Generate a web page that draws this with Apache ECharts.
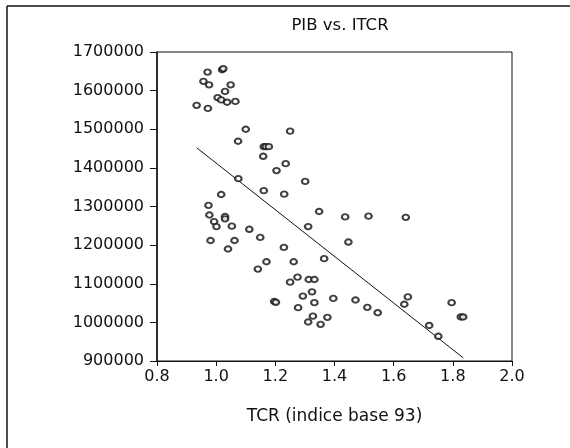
<!DOCTYPE html>
<html>
<head>
<meta charset="utf-8">
<script src="https://cdn.jsdelivr.net/npm/echarts@6/dist/echarts.min.js"></script>
<style>
html,body{margin:0;padding:0;background:#fff;}
#chart{width:570px;height:448px;}
</style>
</head>
<body>
<div id="chart"></div>
<script>
const chartTitle = "PIB vs. ITCR";
const xAxisName = "TCR (indice base 93)";
const xTicks = [0.8, 1.0, 1.2, 1.4, 1.6, 1.8, 2.0];
const yTicks = [900000, 1000000, 1100000, 1200000, 1300000, 1400000, 1500000, 1600000, 1700000];

const tcr = [
  0.934, 0.971, 0.957, 0.976, 0.972, 1.005, 1.017, 1.020, 1.024, 1.030,
  1.037, 1.049, 1.065, 1.100, 1.074, 1.250, 1.161, 1.168, 1.178, 1.159,
  1.235, 1.204, 1.301, 1.075, 1.161, 1.230, 1.017, 1.348, 0.974, 0.977,
  1.030, 1.030, 0.993, 1.001, 1.053, 1.311, 1.112, 1.436, 1.515, 1.641,
  1.447, 0.981, 1.062, 1.149, 1.040, 1.229, 1.365, 1.170, 1.262, 1.141,
  1.275, 1.250, 1.313, 1.332, 1.324, 1.293, 1.396, 1.471, 1.196, 1.202,
  1.332, 1.648, 1.636, 1.796, 1.277, 1.511, 1.546, 1.327, 1.376, 1.311,
  1.353, 1.720, 1.751, 1.827, 1.835
];
const pib = [
  1562000, 1648000, 1624000, 1615000, 1554000, 1582000, 1576000, 1654000, 1657000, 1598000,
  1570000, 1615000, 1572000, 1500000, 1469000, 1495000, 1455000, 1455000, 1455000, 1430000,
  1411000, 1393000, 1365000, 1372000, 1341000, 1332000, 1331000, 1287000, 1303000, 1278000,
  1274000, 1268000, 1261000, 1248000, 1249000, 1248000, 1241000, 1273000, 1275000, 1272000,
  1208000, 1212000, 1212000, 1220000, 1190000, 1194000, 1165000, 1157000, 1157000, 1138000,
  1117000, 1104000, 1111000, 1111000, 1079000, 1068000, 1062000, 1058000, 1054000, 1052000,
  1051000, 1066000, 1047000, 1051000, 1038000, 1039000, 1025000, 1016000, 1013000, 1001000,
  995000, 992000, 964000, 1014000, 1014000
];

// fitted regression line
const fitIntercept = 2016000;
const fitSlope = -603700;

const points = tcr.map((x, i) => [x, pib[i]]);
const xMinData = Math.min(...tcr);
const xMaxData = Math.max(...tcr);
const fitData = [xMinData, xMaxData].map(x => [x, fitIntercept + fitSlope * x]);

const FONT = "DejaVu Sans, Liberation Sans, Arial, sans-serif";
const chart = echarts.init(document.getElementById('chart'), null, {renderer: 'canvas'});
chart.setOption({
  animation: false,
  backgroundColor: '#fff',
  title: {
    text: chartTitle,
    left: 335,
    top: 12,
    textAlign: 'center',
    textStyle: {fontFamily: FONT, fontSize: 16.5, fontWeight: 'normal', color: '#111'}
  },
  graphic: [
    {type: 'line', shape: {x1: 7, y1: 6, x2: 570, y2: 6}, style: {stroke: '#111', lineWidth: 1.5}},
    {type: 'line', shape: {x1: 7, y1: 6, x2: 7, y2: 448}, style: {stroke: '#111', lineWidth: 1.5}}
  ],
  grid: {
    left: 157, top: 52, width: 355, height: 309,
    show: true, borderColor: '#111', borderWidth: 1, backgroundColor: 'transparent',
    containLabel: false
  },
  xAxis: {
    type: 'value',
    min: xTicks[0], max: xTicks[xTicks.length - 1], interval: 0.2,
    name: xAxisName, nameLocation: 'middle', nameGap: 47,
    nameTextStyle: {fontFamily: FONT, fontSize: 17, color: '#111'},
    axisLine: {show: true, lineStyle: {color: '#111', width: 1}},
    axisTick: {show: true, inside: false, length: 5, lineStyle: {color: '#111'}},
    axisLabel: {fontFamily: FONT, fontSize: 16, color: '#111', margin: 8,
      formatter: v => v.toFixed(1)},
    splitLine: {show: false}
  },
  yAxis: {
    type: 'value',
    min: yTicks[0], max: yTicks[yTicks.length - 1], interval: 100000,
    axisLine: {show: true, lineStyle: {color: '#111', width: 1.5}},
    axisTick: {show: true, inside: false, length: 7, lineStyle: {color: '#111'}},
    axisLabel: {fontFamily: FONT, fontSize: 16, color: '#111', margin: 13,
      formatter: v => String(v)},
    splitLine: {show: false}
  },
  series: [
    {
      type: 'scatter',
      data: points,
      symbol: 'emptyCircle',
      symbolSize: [6.5, 5.5],
      itemStyle: {color: '#111', borderColor: '#111', borderWidth: 1.3},
      z: 3
    },
    {
      type: 'line',
      data: fitData,
      showSymbol: false,
      symbol: 'none',
      lineStyle: {color: '#111', width: 1},
      z: 2
    }
  ]
});
</script>
</body>
</html>
